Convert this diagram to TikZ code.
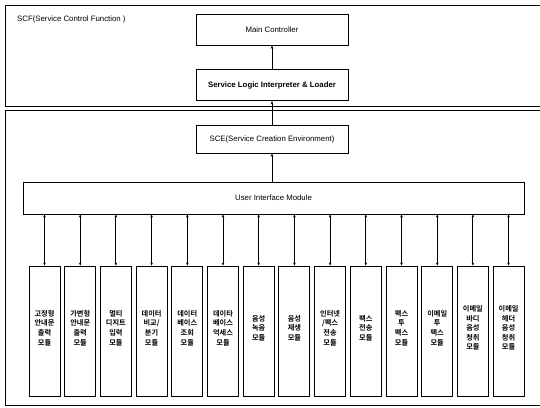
\documentclass[tikz,border=0pt]{standalone}
\usepackage{fontspec}
\setmainfont{Liberation Sans}
\newfontfamily\krfont{Noto Sans CJK KR}[BoldFont={* Bold}]
\usetikzlibrary{arrows.meta}
\begin{document}
\begin{tikzpicture}[x=1pt,y=-1pt,
  frame/.style={draw=black,line width=1pt},
  topbox/.style={draw=black,line width=0.9pt,minimum width=152pt,minimum height=31pt,inner sep=0pt,font=\fontsize{7.8}{9}\selectfont},
  modbox/.style={draw=black,line width=0.9pt,minimum width=31pt,minimum height=130pt,inner sep=0pt},
  modtext/.style={align=center,inner sep=0pt,font=\krfont\bfseries\fontsize{7.2}{9.6}\selectfont},
  conn/.style={line width=0.9pt,-{Stealth[length=3.5pt,width=2.8pt]}},
  biconn/.style={line width=0.9pt,{Stealth[length=3pt,width=2.6pt]}-{Stealth[length=3pt,width=2.6pt]}}
]
\useasboundingbox (0,0) rectangle (540,407);
\fill[white] (0,0) rectangle (540,407);
% outer frames
\draw[frame] (542,5) -- (5,5) -- (5,106) -- (542,106);
\draw[frame] (542,110) -- (5,110) -- (5,405) -- (542,405);
\node[anchor=base west,font=\fontsize{7.8}{9}\selectfont,inner sep=0pt] (scf) at (17,21) {SCF(Service Control Function )};
% top boxes
\node[topbox] (mc) at (272,29.5) {Main Controller};
\node[topbox,font=\bfseries\fontsize{7.8}{9}\selectfont] (sli) at (272,85) {Service Logic Interpreter \& Loader};
\node[topbox,minimum height=28pt] (sce) at (272,139) {SCE(Service Creation Environment)};
\node[draw=black,line width=0.9pt,minimum width=501pt,minimum height=32pt,inner sep=0pt,font=\fontsize{7.8}{9}\selectfont] (uim) at (273.5,198) {User Interface Module};
\draw[conn] (sli) -- (mc);
\draw[conn] (sce) -- (sli);
\draw[conn] (uim.north -| sce.south) -- (sce);
% modules
\foreach \i/\t in {1/{고정형\\안내문\\출력\\모듈},
                   2/{가변형\\안내문\\출력\\모듈},
                   3/{멀티\\디지트\\입력\\모듈},
                   4/{데이터\\비교/\\분기\\모듈},
                   5/{데이터\\베이스\\조회\\모듈},
                   6/{데이타\\베이스\\억세스\\모듈},
                   7/{음성\\녹음\\모듈},
                   8/{음성\\재생\\모듈},
                   9/{인터넷\\/팩스\\전송\\모듈},
                   10/{팩스\\전송\\모듈},
                   11/{팩스\\투\\팩스\\모듈},
                   12/{이메일\\투\\팩스\\모듈},
                   13/{이메일\\바디\\음성\\청취\\모듈},
                   14/{이메일\\헤더\\음성\\청취\\모듈}}{
  \node[modbox] (m\i) at ({44.5+35.7*(\i-1)},331) {};
  \node[modtext] (t\i) at ([yshift=3pt]m\i.center) {\t};
  \draw[biconn] (m\i.north |- uim.south) -- (m\i.north);
}
\end{tikzpicture}
\end{document}
